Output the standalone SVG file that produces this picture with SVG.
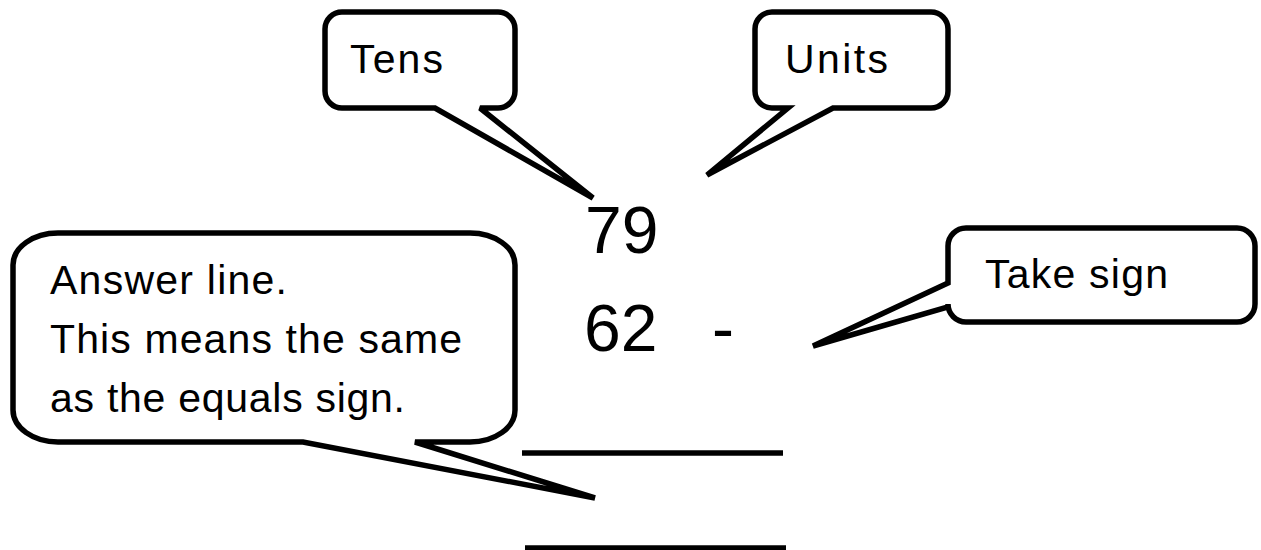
<svg xmlns="http://www.w3.org/2000/svg" width="1261" height="550" viewBox="0 0 1261 550">
<style>
.call{fill:#fff;stroke:#000;stroke-width:5.5;stroke-linejoin:miter;stroke-miterlimit:3}
.t{font-family:"Liberation Sans",Arial,sans-serif;font-size:41px;fill:#000}
.n{font-family:"Liberation Sans",Arial,sans-serif;font-size:66px;fill:#000}
.rule{stroke:#000;stroke-width:5.5}
</style>
<rect width="1261" height="550" fill="#fff"/>
<g id="connectors"></g>
<g id="tens">
<path class="call" d="M342,12 H498 A17,17 0 0 1 515,29 V91 A17,17 0 0 1 498,108 H480 L593,198 L435,108 H342 A17,17 0 0 1 325,91 V29 A17,17 0 0 1 342,12 Z"/>
<text class="t" x="350" y="73" textLength="93">Tens</text>
</g>
<g id="units">
<path class="call" d="M772,12 H931 A17,17 0 0 1 948,29 V91 A17,17 0 0 1 931,108 H833 L707,175 L788,108 H772 A17,17 0 0 1 755,91 V29 A17,17 0 0 1 772,12 Z"/>
<text class="t" x="785" y="73" textLength="103">Units</text>
</g>
<g id="take-sign">
<path class="call" d="M966,228 H1237 A18,18 0 0 1 1255,246 V304 A18,18 0 0 1 1237,322 H966 A18,18 0 0 1 948,304 V307 L813,346 L948,283 V246 A18,18 0 0 1 966,228 Z"/>
<text class="t" x="985" y="288" textLength="183">Take sign</text>
</g>
<g id="answer-line">
<path class="call" d="M58,233 H470 A45,32 0 0 1 515,265 V410 A45,32 0 0 1 470,442 H415 L595,498 L303,442 H58 A45,32 0 0 1 13,410 V265 A45,32 0 0 1 58,233 Z"/>
<text class="t" x="50" y="294" textLength="237">Answer line.</text>
<text class="t" x="50" y="353" textLength="412">This means the same</text>
<text class="t" x="50" y="412" textLength="355">as the equals sign.</text>
</g>
<g id="sum">
<text class="n" x="585" y="253">79</text>
<text class="n" x="584" y="351">62</text>
<text class="n" x="712" y="351">-</text>
<line class="rule" x1="522" y1="453" x2="783" y2="453"/>
<line class="rule" x1="525" y1="548" x2="786" y2="548"/>
</g>
</svg>
